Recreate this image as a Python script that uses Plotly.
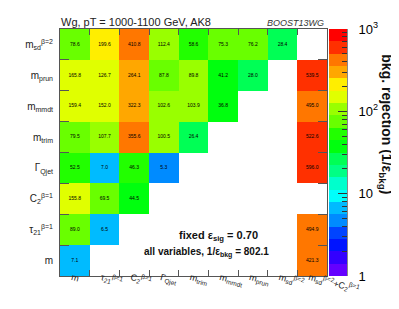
import math
import colorsys
import plotly.graph_objects as go

# ---------------- data ----------------
x_labels = ["m", "τ<sub>21</sub><sup>β=1</sup>", "C<sub>2</sub><sup>β=1</sup>", "Γ<sub>Qjet</sub>",
            "m<sub>trim</sub>", "m<sub>mmdt</sub>", "m<sub>prun</sub>", "m<sub>sd</sub><sup>β=2</sup>",
            "m<sub>sd</sub><sup>β=2</sup>+C<sub>2</sub><sup>β=1</sup>"]
y_labels = ["m", "τ<sub>21</sub><sup>β=1</sup>", "C<sub>2</sub><sup>β=1</sup>", "Γ<sub>Qjet</sub>",
            "m<sub>trim</sub>", "m<sub>mmdt</sub>", "m<sub>prun</sub>", "m<sub>sd</sub><sup>β=2</sup>"]

row_m     = [7.1, None, None, None, None, None, None, None, 421.3]
row_tau21 = [89.0, 6.5, None, None, None, None, None, None, 494.9]
row_c2    = [155.8, 69.5, 44.5, None, None, None, None, None, None]
row_qjet  = [52.5, 7.0, 46.3, 5.3, None, None, None, None, 596.0]
row_trim  = [79.5, 107.7, 355.6, 100.5, 26.4, None, None, None, 522.6]
row_mmdt  = [159.4, 152.0, 322.3, 102.6, 103.9, 36.8, None, None, 495.0]
row_prun  = [165.8, 126.7, 264.1, 87.8, 89.8, 41.2, 28.0, None, 539.5]
row_sd    = [78.6, 199.6, 410.8, 112.4, 58.6, 75.3, 76.2, 28.4, None]

rows = [row_m, row_tau21, row_c2, row_qjet, row_trim, row_mmdt, row_prun, row_sd]

cbar_ticktext = ["1", "10", "10<sup>2</sup>", "10<sup>3</sup>"]
n_levels = 20
z_max_decades = 3

title_text = "Wg, pT = 1000-1100 GeV, AK8"
tag_text = "<i>BOOST13WG</i>"
note1 = "<b>fixed ε<sub>sig</sub> = 0.70</b>"
note2 = "<b>all variables, 1/ε<sub>bkg</sub> = 802.1</b>"
cbar_title = "<b>bkg. rejection (1/ε<sub>bkg</sub>)</b>"

# ---------------- palette (ROOT pretty palette, 20 contours) ----------------
def root_color(k):
    idx = int((k + 0.99) * 50 / n_levels)
    hue = 280 - (idx + 1) * 5.6
    r, g, b = colorsys.hls_to_rgb((hue % 360) / 360.0, 0.5, 1.0)
    return "rgb(%d,%d,%d)" % (round(r * 255), round(g * 255), round(b * 255))

colorscale = []
for k in range(n_levels):
    c = root_color(k)
    colorscale.append([k / n_levels, c])
    colorscale.append([(k + 1) / n_levels, c])

z = [[math.log10(v) if v is not None else None for v in r] for r in rows]

# cell labels (only for filled cells)
lab_x, lab_y, lab_t = [], [], []
for yi, r in enumerate(rows):
    for xi, v in enumerate(r):
        if v is not None:
            lab_x.append(x_labels[xi])
            lab_y.append(y_labels[yi])
            lab_t.append("%.1f" % v)

# smaller scripts for the slanted x labels
def small_scripts(s, size=6.5):
    for tag in ("sub", "sup"):
        s = s.replace("<%s>" % tag, "<%s><span style='font-size:%spx'>" % (tag, size))
        s = s.replace("</%s>" % tag, "</span></%s>" % tag)
    return s

x_ticktext = [small_scripts(s) for s in x_labels]

FONT = "Liberation Sans, Arial, sans-serif"

fig = go.Figure()
fig.add_trace(go.Heatmap(
    x=x_labels, y=y_labels, z=z,
    colorscale=colorscale, zmin=0, zmax=z_max_decades, showscale=False,
    hoverinfo="skip", xaxis="x", yaxis="y"))
fig.add_trace(go.Scatter(
    x=lab_x, y=lab_y, text=lab_t, mode="text",
    textfont=dict(size=5, color="black", family=FONT),
    hoverinfo="skip", showlegend=False, xaxis="x", yaxis="y"))

# colour bar drawn as its own heatmap
step = z_max_decades / n_levels
edges = [k * step for k in range(n_levels + 1)]
centers = [[(k + 0.5) * step] for k in range(n_levels)]
fig.add_trace(go.Heatmap(
    x=[0, 1], y=edges, z=centers, colorscale=colorscale, zmin=0, zmax=z_max_decades,
    showscale=False, hoverinfo="skip", xaxis="x2", yaxis="y2"))

minor_vals = [math.log10(m * 10 ** d) for d in range(z_max_decades) for m in range(2, 10)]

L, R, T, B = 52, 60, 14, 41
W, H = 399, 309
pw = W - L - R
x_main_end = (319 - L) / pw
x_cb0 = (321 - L) / pw

axis_line = "#555555"
fig.update_layout(
    width=W, height=H, margin=dict(l=L, r=R, t=T, b=B),
    paper_bgcolor="white", plot_bgcolor="white",
    font=dict(family=FONT, color="black"),
    xaxis=dict(domain=[0, x_main_end], type="category", tickson="boundaries",
               tickmode="array", tickvals=x_labels, ticktext=x_ticktext,
               ticks="inside", ticklen=6, tickcolor=axis_line, showline=True, linecolor=axis_line,
               mirror="allticks", showgrid=False, zeroline=False, tickangle=15,
               ticklabelstandoff=-8, ticklabelshift=-3,
               tickfont=dict(size=9, color="#222"), anchor="y"),
    yaxis=dict(domain=[0, 1], type="category", tickson="boundaries",
               ticks="inside", ticklen=9, tickcolor=axis_line, showline=True, linecolor=axis_line,
               mirror="allticks", showgrid=False, zeroline=False, ticklabelstandoff=4,
               tickfont=dict(size=10, color="#222"), anchor="x"),
    xaxis2=dict(domain=[x_cb0, 1], range=[0, 1], visible=False, anchor="y2"),
    yaxis2=dict(domain=[0, 1], range=[0, z_max_decades], anchor="x2", side="right",
                tickvals=[0, 1, 2, 3], ticktext=cbar_ticktext, ticks="inside", ticklen=9,
                tickcolor="#333", showline=True, linecolor="#888", showgrid=False, zeroline=False,
                ticklabelstandoff=8, tickfont=dict(size=13, color="black"),
                minor=dict(tickvals=minor_vals, ticks="inside", ticklen=5, tickcolor="#333")),
)

def px_x(x):
    return (x - L) / pw

def px_y(y):
    return (H - B - y) / (H - B - T)

ann = [
    dict(text=title_text, x=px_x(128), y=px_y(7), font=dict(size=11, color="#222")),
    dict(text=tag_text, x=px_x(287), y=px_y(8), font=dict(size=9, color="#333")),
    dict(text=note1, x=px_x(210), y=px_y(227), font=dict(size=11, color="#111")),
    dict(text=note2, x=px_x(198.5), y=px_y(244), font=dict(size=10, color="#111")),
    dict(text=cbar_title, x=px_x(378), y=px_y(112), textangle=90, font=dict(size=14, color="#111")),
]
for a in ann:
    fig.add_annotation(xref="paper", yref="paper", showarrow=False,
                       xanchor="center", yanchor="middle", **a)

fig.write_html("out.html")
